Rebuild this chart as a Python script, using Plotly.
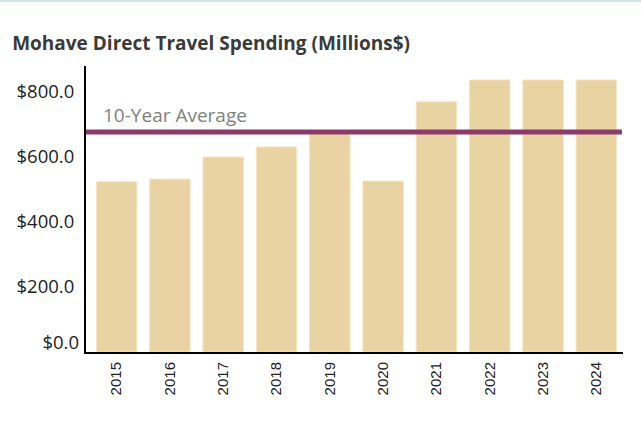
import numpy as np
import plotly.graph_objects as go

years = ["2015", "2016", "2017", "2018", "2019", "2020", "2021", "2022", "2023", "2024"]
spending = [524, 532, 600, 631, 674, 526, 770, 837, 837, 837]
y_ticks = [200, 400, 600, 800]
y_tick_labels = ["$200.0", "$400.0", "$600.0", "$800.0"]
title_text = "Mohave Direct Travel Spending (Millions$)"
avg_label = "10-Year Average"
avg_value = float(np.mean(spending))

fig = go.Figure()
fig.add_trace(go.Bar(
    x=years, y=spending,
    marker=dict(color="#E9D3A3", line=dict(color="#F3E6C6", width=1)),
    hoverinfo="x+y", showlegend=False,
))

fig.add_shape(type="line", xref="paper", yref="y", x0=0, x1=0.998,
              y0=avg_value, y1=avg_value,
              line=dict(color="#8B3A6B", width=5))
fig.add_annotation(xref="paper", yref="y", x=0.028, y=avg_value, yshift=17,
                   text=avg_label, showarrow=False, xanchor="left",
                   font=dict(family="Open Sans, sans-serif", size=19, color="#808080"))

# top border line
fig.add_shape(type="line", xref="paper", yref="paper", x0=-0.2, x1=1.1, y0=1.227, y1=1.227,
              line=dict(color="#CDE7E9", width=2))

fig.update_layout(
    width=641, height=423,
    margin=dict(l=86, r=18, t=66, b=71),
    paper_bgcolor="white", plot_bgcolor="white",
    bargap=0.24,
    title=dict(text="<b>" + title_text + "</b>", x=0.019, xanchor="left", y=0.897, yanchor="middle",
               font=dict(family="Open Sans, sans-serif", size=19, color="#3a3a3a")),
    xaxis=dict(showline=True, linecolor="black", linewidth=2, tickangle=-90,
               tickfont=dict(family="Liberation Sans, Arial, sans-serif", size=15, color="#222222"),
               ticks="", showgrid=False, zeroline=False, ticklabelstandoff=2),
    yaxis=dict(range=[0, 880], tickvals=y_ticks, ticktext=y_tick_labels,
               showline=True, linecolor="black", linewidth=2, showgrid=False, zeroline=False,
               ticks="", ticklabelstandoff=6,
               tickfont=dict(family="Open Sans, sans-serif", size=18.5, color="#222222")),
    yaxis2=dict(range=[0, 880], overlaying="y", side="left", tickvals=[0], ticktext=["$0.0"],
                ticklabelshift=-9, showline=False, showgrid=False, zeroline=False, ticks="",
                ticklabelstandoff=6,
                tickfont=dict(family="Open Sans, sans-serif", size=18.5, color="#222222")),
)
fig.add_trace(go.Scatter(x=[years[0]], y=[0], yaxis="y2", mode="markers",
                         marker=dict(opacity=0), hoverinfo="skip", showlegend=False))

fig.write_html("out.html")
